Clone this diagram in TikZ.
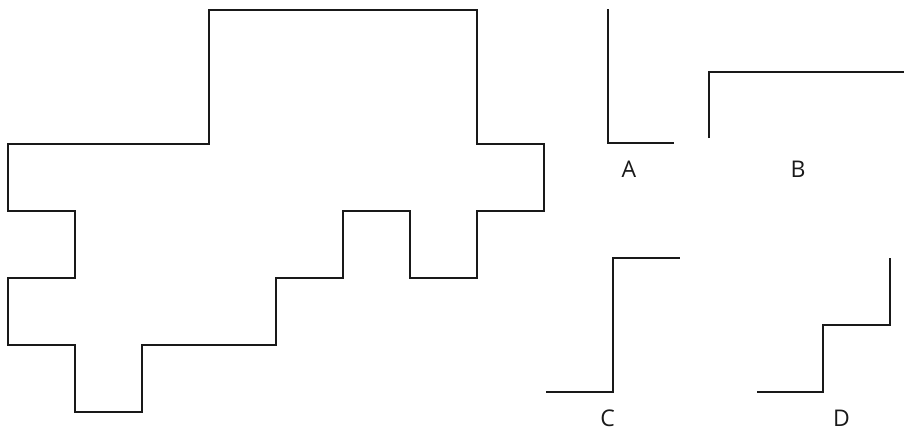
\documentclass[tikz,border=0pt]{standalone}
\usepackage{fontspec}
\setmainfont{Open Sans}
\begin{document}
\begin{tikzpicture}[x=1pt,y=-1pt,
  edge/.style={line width=2pt,line cap=butt,line join=miter,black!90},
  lbl/.style={font=\fontsize{23}{26}\selectfont,text=black!90,inner sep=0pt,anchor=center}]
\useasboundingbox (0,0) rectangle (904,432);
% main figure
\draw[edge] (209,10) -- (477,10) -- (477,144) -- (544,144) -- (544,211) -- (477,211)
  -- (477,278) -- (410,278) -- (410,211) -- (343,211) -- (343,278) -- (276,278)
  -- (276,345) -- (142,345) -- (142,412) -- (75,412) -- (75,345) -- (8,345)
  -- (8,278) -- (75,278) -- (75,211) -- (8,211) -- (8,144) -- (209,144) -- cycle;
% A
\draw[edge] (608,9) -- (608,143) -- (674,143);
\node[lbl] (la) at (629,169.5) {A};
% B
\draw[edge] (709,138) -- (709,72) -- (904,72);
\node[lbl] (lb) at (798,169.5) {B};
% C
\draw[edge] (546,392) -- (613,392) -- (613,258) -- (680,258);
\node[lbl] (lc) at (607.5,418.5) {C};
% D
\draw[edge] (757,392) -- (823,392) -- (823,325) -- (890,325) -- (890,258);
\node[lbl] (ld) at (841.5,418.5) {D};
\end{tikzpicture}
\end{document}
